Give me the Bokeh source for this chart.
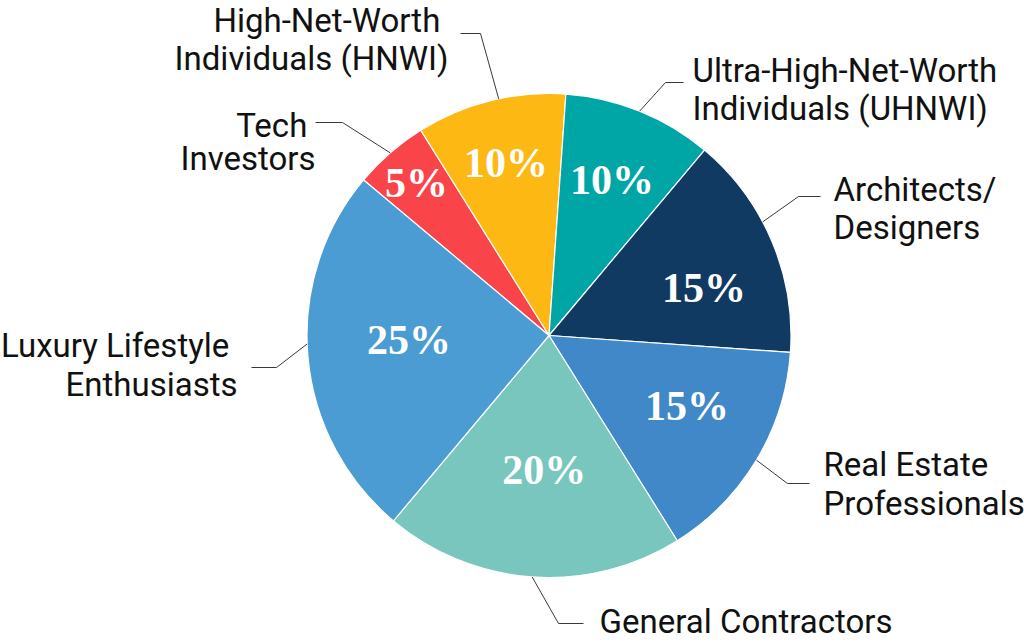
import numpy as np
from bokeh.plotting import figure
from bokeh.models import ColumnDataSource, Range1d
from bokeh.core.properties import value
from bokeh.embed import file_html
from bokeh.resources import INLINE

# ---------------- data ----------------
categories = [
    "Tech Investors",
    "High-Net-Worth Individuals (HNWI)",
    "Ultra-High-Net-Worth Individuals (UHNWI)",
    "Architects/Designers",
    "Real Estate Professionals",
    "General Contractors",
    "Luxury Lifestyle Enthusiasts",
]
label_lines = [
    ["Tech", "Investors"],
    ["High-Net-Worth", "Individuals (HNWI)"],
    ["Ultra-High-Net-Worth", "Individuals (UHNWI)"],
    ["Architects/", "Designers"],
    ["Real Estate", "Professionals"],
    ["General Contractors"],
    ["Luxury Lifestyle", "Enthusiasts"],
]
shares = [5, 10, 10, 15, 15, 20, 25]
colors = ["#F9444A", "#FDB813", "#00A6A6", "#113A63", "#4088C8", "#78C6BD", "#4B9CD3"]

# ---------------- layout (page pixel space, y down) ----------------
W, H = 1024, 644
CX, CY_PX, R = 548.5, 335.0, 242.0
START_DEG = 310.0              # clockwise from 12 o'clock
side = ["right", "right", "left", "left", "left", "left", "right"]
elbow_px = [(342, 122), (480, 33), (665, 82), (798, 196), (787, 483), (558, 623), (276, 367)]
end_x_px = [315, 460, 683, 820, 809, 583, 251]
text_x_px = [315, 448, 692, 833, 823, 599, 237]
text_y_px = [125, 20, 70, 189, 464, 621, 345]
line_gap = [33, 38, 38, 38, 39, 38, 39]
conn_nudge = [0, 2, 0, -5, 0, 0, 3]
pct_radius = [202, 178, 168, 162, 155, 135, 140]
pct_nudge = [0, 0, 0, 6, -4, -2, 3]


def fy(py):
    return H - py


CY = fy(CY_PX)

vals = np.array(shares, dtype=float)
cum = np.concatenate([[0.0], np.cumsum(vals)]) / vals.sum()
th_s = START_DEG + 360.0 * cum[:-1]
th_e = START_DEG + 360.0 * cum[1:]
mid = (th_s + th_e) / 2.0

wedge_src = ColumnDataSource(dict(
    start=np.radians(90.0 - th_e),
    end=np.radians(90.0 - th_s),
    color=colors,
    cat=categories,
))

p = figure(width=W, height=H, output_backend="svg", toolbar_location=None,
           x_range=Range1d(0, W), y_range=Range1d(0, H),
           min_border=0, outline_line_color=None, background_fill_color="white",
           border_fill_color="white")
p.axis.visible = False
p.xgrid.visible = False
p.ygrid.visible = False

p.wedge(x=CX, y=CY, radius=R, start_angle="start", end_angle="end",
        fill_color="color", line_color="white", line_width=1.2, source=wedge_src)

# leader lines
xs, ys = [], []
for i in range(len(shares)):
    a = np.radians(mid[i] + conn_nudge[i])
    ex, ey = CX + R * np.sin(a), CY + R * np.cos(a)
    bx, by = elbow_px[i]
    xs.append([ex, bx, end_x_px[i]])
    ys.append([ey, fy(by), fy(by)])
p.multi_line(xs=xs, ys=ys, line_color="#3a3a3a", line_width=1)

# category labels
tx, ty, tt, ta = [], [], [], []
for i, lines in enumerate(label_lines):
    for j, ln in enumerate(lines):
        s = ln
        if side[i] == "right" and j < len(lines) - 1:
            s = ln + "\u00a0"
        tx.append(text_x_px[i])
        ty.append(fy(text_y_px[i] + j * line_gap[i]))
        tt.append(s)
        ta.append(side[i])
p.text(x="x", y="y", text="t", text_align="a", source=ColumnDataSource(dict(x=tx, y=ty, t=tt, a=ta)),
       text_font=value("Roboto"), text_font_size=value("33px"), text_color="#111111",
       text_baseline="middle")

# percentage labels
pa = np.radians(mid + np.array(pct_nudge))
px_ = CX + np.array(pct_radius) * np.sin(pa)
py_ = CY + np.array(pct_radius) * np.cos(pa)
p.text(x=px_, y=py_, text=[f"{v}%" for v in shares], text_align="center", text_baseline="middle",
       text_font=value("Liberation Serif"), text_font_style="bold", text_font_size=value("42px"),
       text_color="white")

open("out.html", "w").write(file_html(p, INLINE))
